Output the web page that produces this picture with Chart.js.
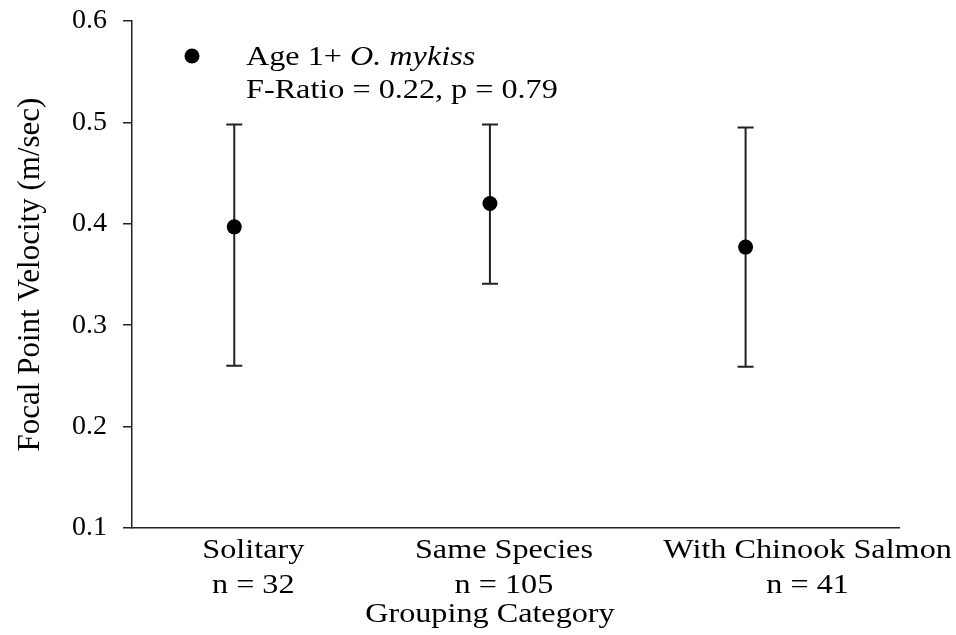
<!DOCTYPE html>
<html>
<head>
<meta charset="utf-8">
<script src="https://cdn.jsdelivr.net/npm/chart.js@4"></script>
<style>
  html, body { margin: 0; padding: 0; background: #fff; }
  #wrap { width: 956px; height: 635px; }
</style>
</head>
<body>
<div id="wrap"><canvas id="chart"></canvas></div>
<script>
// Focal point velocity by grouping category, mean with range bars
const categories = ["Solitary", "Same Species", "With Chinook Salmon"];
const sampleSizes = [32, 105, 41];
const means = [0.397, 0.420, 0.377];
const upperValues = [0.498, 0.498, 0.495];
const lowerValues = [0.260, 0.341, 0.259];
const yTicks = [0.1, 0.2, 0.3, 0.4, 0.5, 0.6];

const FONT = '"Liberation Serif", "Times New Roman", serif';
const INK = "#000";
const LINE = "#222";
const TEXT_WIDEN = 1.15;

// category label nudges, in px
const labelShift = [19, 14, 62];

// slightly widened serif text, anchored at (x, y)
function wideText(ctx, text, x, y) {
    ctx.save();
    ctx.translate(x, y);
    ctx.scale(TEXT_WIDEN, 1);
    ctx.fillText(text, 0, 0);
    ctx.restore();
    return ctx.measureText(text).width * TEXT_WIDEN;
}

const errorBars = {
    id: "errorBars",
    beforeDatasetsDraw(chart) {
        const { ctx, scales: { x, y } } = chart;
        ctx.save();
        ctx.strokeStyle = LINE;
        ctx.lineWidth = 2;
        means.forEach((_, i) => {
            const px = x.getPixelForValue(i + 1);
            const top = y.getPixelForValue(upperValues[i]);
            const bot = y.getPixelForValue(lowerValues[i]);
            ctx.beginPath();
            ctx.moveTo(px, top);
            ctx.lineTo(px, bot);
            ctx.moveTo(px - 8, top);
            ctx.lineTo(px + 8, top);
            ctx.moveTo(px - 8, bot);
            ctx.lineTo(px + 8, bot);
            ctx.stroke();
        });
        ctx.restore();
    },
};

const labelsAndLegend = {
    id: "labelsAndLegend",
    afterDraw(chart) {
        const { ctx, chartArea, scales: { x } } = chart;
        ctx.save();
        ctx.fillStyle = INK;
        ctx.font = `28px ${FONT}`;
        ctx.textAlign = "center";
        ctx.textBaseline = "alphabetic";

        categories.forEach((name, i) => {
            const cx = x.getPixelForValue(i + 1) + labelShift[i];
            wideText(ctx, name, cx, chartArea.bottom + 30);
            wideText(ctx, `n = ${sampleSizes[i]}`, cx, chartArea.bottom + 65);
        });
        wideText(ctx, "Grouping Category", x.getPixelForValue(2), chartArea.bottom + 94);

        // legend block in the upper left of the plot
        const lx = chartArea.left + 60;
        const ly = chartArea.top + 35;
        ctx.beginPath();
        ctx.arc(lx, ly, 7.5, 0, Math.PI * 2);
        ctx.fill();

        const tx = chartArea.left + 114;
        ctx.textAlign = "left";
        const w = wideText(ctx, "Age 1+ ", tx, ly + 9);
        ctx.font = `italic 28px ${FONT}`;
        wideText(ctx, "O. mykiss", tx + w, ly + 9);
        ctx.font = `28px ${FONT}`;
        wideText(ctx, "F-Ratio = 0.22, p = 0.79", tx, ly + 42);
        ctx.restore();
    },
};

new Chart(document.getElementById("chart"), {
    type: "scatter",
    data: {
        datasets: [{
            label: "Age 1+ O. mykiss",
            data: means.map((m, i) => ({ x: i + 1, y: m })),
            backgroundColor: INK,
            borderWidth: 0,
            pointRadius: 7.5,
            pointHoverRadius: 7.5,
        }],
    },
    options: {
        responsive: true,
        maintainAspectRatio: false,
        animation: false,
        layout: { padding: { top: 21, right: 57, bottom: 0, left: 0 } },
        plugins: {
            legend: { display: false },
            tooltip: { enabled: false },
        },
        scales: {
            x: {
                type: "linear",
                min: 0.6,
                max: 3.6,
                ticks: { display: false },
                grid: { display: true, drawOnChartArea: false, drawTicks: false },
                border: { display: true, color: LINE, width: 1.5 },
                afterFit: (s) => { s.height = 107; },
            },
            y: {
                min: 0.1,
                max: 0.6,
                afterBuildTicks: (s) => { s.ticks = yTicks.map((v) => ({ value: v })); },
                ticks: {
                    callback: (v) => Number(v).toFixed(1),
                    color: INK,
                    padding: 16,
                    font: { family: FONT, size: 28 },
                },
                grid: { drawOnChartArea: false, tickLength: 9, color: LINE, lineWidth: 1.5 },
                border: { color: LINE, width: 1.5 },
                title: {
                    display: true,
                    text: "Focal Point Velocity (m/sec)",
                    color: INK,
                    font: { family: FONT, size: 31 },
                    padding: { top: 12, bottom: 0 },
                },
                afterFit: (s) => {
                    s.width = 132;
                    s.paddingTop = 0;
                    s.paddingBottom = 0;
                },
            },
        },
    },
    plugins: [errorBars, labelsAndLegend],
});
</script>
</body>
</html>
